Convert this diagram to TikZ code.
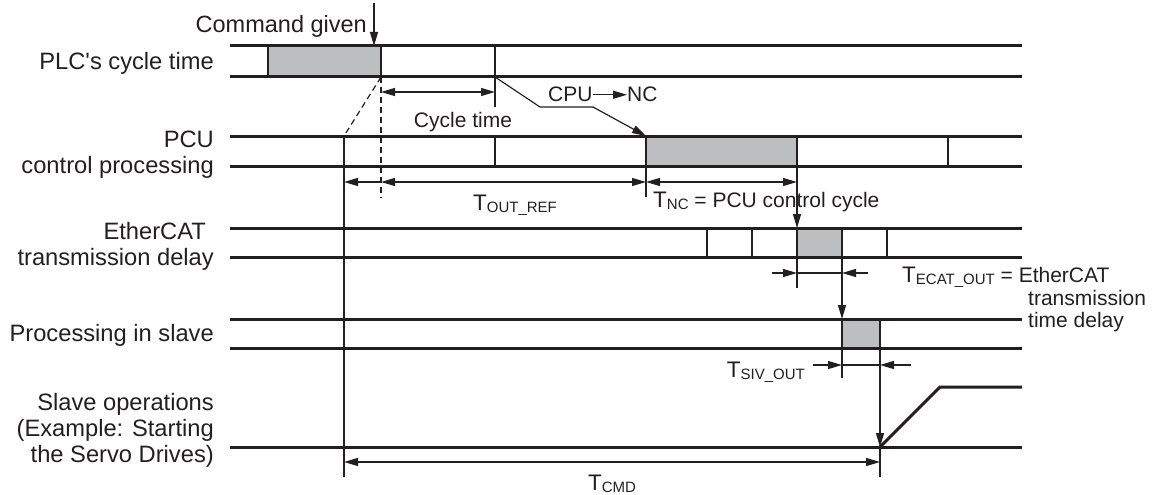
\documentclass[tikz,border=0pt]{standalone}
\usepackage{fontspec}
\setmainfont{Liberation Sans}
\usetikzlibrary{arrows.meta}
\definecolor{ink}{RGB}{35,31,32}
\definecolor{boxgray}{RGB}{188,190,192}
\newcommand{\TS}[1]{{\fontsize{22.5}{22.5}\selectfont T}\raisebox{-2pt}{\fontsize{15}{15}\selectfont #1}}
\begin{document}
\begin{tikzpicture}[x=1pt,y=-1pt,
  >={Triangle[length=14pt,width=8pt]},
  row/.style={draw=ink,line width=3pt},
  div/.style={draw=ink,line width=2.5pt},
  thinln/.style={draw=ink,line width=1.2pt},
  oneway/.style={thinln,->},
  twoway/.style={thinln,<->},
  dashln/.style={thinln,dash pattern=on 6pt off 4pt},
  lab/.style={inner sep=0pt,text=ink,font=\fontsize{23.7}{26}\selectfont},
  ann/.style={inner sep=0pt,text=ink,font=\fontsize{21}{22.5}\selectfont}]
\useasboundingbox (0,0) rectangle (1152,495);

% gray boxes
\fill[boxgray] (268,46) rectangle (381,77);
\fill[boxgray] (646,136) rectangle (797,166);
\fill[boxgray] (797,228) rectangle (842,257);
\fill[boxgray] (842,319) rectangle (880,348);

% row lines
\foreach \y in {46,77,136,166,228,257,319,348} \draw[row] (230,\y) -- (1022,\y);
\draw[row] (230,447) -- (1022,447);
\draw[row,line join=miter] (880,447) -- (940,387) -- (1022,387);

% dividers
\foreach \x in {268,381,495} \draw[div] (\x,46) -- (\x,77);
\foreach \x in {344,495,646,797,948} \draw[div] (\x,136) -- (\x,166);
\foreach \x in {707,752,797,842,887} \draw[div] (\x,228) -- (\x,257);
\foreach \x in {842,880} \draw[div] (\x,319) -- (\x,348);

% coordinates
\coordinate (cmdT) at (374,3);
\coordinate (cmdB) at (374,46);
\coordinate (plcE) at (381,77);
\coordinate (dashB) at (381,198);
\coordinate (pcuS) at (344,136);
\coordinate (ctL) at (381,92);
\coordinate (ctR) at (495,92);
\coordinate (ctT) at (495,77);
\coordinate (ctB) at (495,107);
\coordinate (k1) at (540,107);
\coordinate (k2) at (593,107);
\coordinate (ncS) at (646,136);
\coordinate (oA) at (344,182);
\coordinate (oB) at (381,182);
\coordinate (oC) at (646,182);
\coordinate (oD) at (797,182);
\coordinate (tk1T) at (646,166);
\coordinate (tk1B) at (646,197);
\coordinate (vA) at (344,166);
\coordinate (vAB) at (344,477);
\coordinate (vB) at (797,166);
\coordinate (vBB) at (797,228);
\coordinate (eA) at (772,273);
\coordinate (eB) at (797,273);
\coordinate (eC) at (842,273);
\coordinate (eD) at (868,273);
\coordinate (tk2T) at (797,257);
\coordinate (tk2B) at (797,288);
\coordinate (vC) at (842,257);
\coordinate (vCB) at (842,319);
\coordinate (sA) at (813,365);
\coordinate (sB) at (842,365);
\coordinate (sC) at (880,365);
\coordinate (sD) at (911,365);
\coordinate (tk3T) at (842,348);
\coordinate (tk3B) at (842,378);
\coordinate (vD) at (880,348);
\coordinate (vDM) at (880,447);
\coordinate (vDB) at (880,477);
\coordinate (cA) at (344,462);
\coordinate (cB) at (880,462);

% connectors
\draw[oneway] (cmdT) -- (cmdB);
\draw[dashln] (plcE) -- (dashB);
\draw[dashln] (plcE) -- (pcuS);
\draw[twoway] (ctL) -- (ctR);
\draw[thinln] (ctT) -- (ctB);
\draw[oneway] (ctT) -- (k1) -- (k2) -- (ncS);
\draw[oneway] (oB) -- (oA);
\draw[twoway] (oB) -- (oC);
\draw[twoway] (oC) -- (oD);
\draw[thinln] (tk1T) -- (tk1B);
\draw[thinln] (vA) -- (vAB);
\draw[oneway] (vB) -- (vBB);
\draw[oneway] (eA) -- (eB);
\draw[oneway] (eD) -- (eC);
\draw[thinln] (eB) -- (eC);
\draw[thinln] (tk2T) -- (tk2B);
\draw[oneway] (vC) -- (vCB);
\draw[oneway] (sA) -- (sB);
\draw[oneway] (sD) -- (sC);
\draw[thinln] (sB) -- (sC);
\draw[thinln] (tk3T) -- (tk3B);
\draw[oneway] (vD) -- (vDM);
\draw[thinln] (vDM) -- (vDB);
\draw[twoway] (cA) -- (cB);

% row labels
\node[lab,anchor=base east] (l1) at (214,70) {PLC\textquotesingle s cycle time};
\node[lab,anchor=base east] (l2a) at (214,147) {PCU};
\node[lab,anchor=base east] (l2b) at (214,173) {control processing};
\node[lab,anchor=base east] (l3a) at (206,239) {EtherCAT};
\node[lab,anchor=base east] (l3b) at (214,265) {transmission delay};
\node[lab,anchor=base east] (l4) at (214,341) {Processing in slave};
\node[lab,anchor=base east] (l5a) at (214,410) {Slave operations};
\node[lab,anchor=base east] (l5b) at (214,436) {(Example: Starting};
\node[lab,anchor=base east] (l5c) at (214,462) {the Servo Drives)};

% annotations
\node[ann,font=\fontsize{23.5}{23.5}\selectfont,anchor=base east] (cmd) at (367,33) {Command given};
\node[ann,anchor=base] (ct) at (463,127) {Cycle time};
\node[ann,anchor=base west] (cpu) at (548,102) {CPU};
\node[ann,anchor=base west] (nc) at (627,102) {NC};
\draw[oneway] (cpu.east) -- (nc.west);
\node[ann,anchor=base] (tout) at (515,210) {\TS{OUT\_REF}};
\node[ann,anchor=base west] (tnc) at (653,207) {\TS{NC} = PCU control cycle};
\node[ann,anchor=base west] (tec) at (902,282) {\TS{ECAT\_OUT} = EtherCAT};
\node[ann,anchor=base west] (tec2) at (1028,305) {transmission};
\node[ann,anchor=base west] (tec3) at (1028,327) {time delay};
\node[ann,anchor=base east] (tsiv) at (805,377) {\TS{SIV\_OUT}};
\node[ann,anchor=base] (tcmd) at (612,490) {\TS{CMD}};
\end{tikzpicture}
\end{document}
